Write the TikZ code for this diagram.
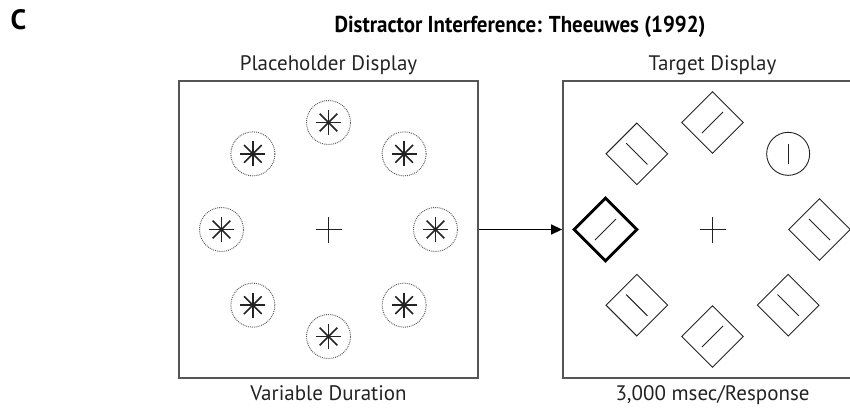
\documentclass[tikz,border=0pt]{standalone}
\usepackage{fontspec}
\setmainfont{PT Sans}
\usetikzlibrary{positioning, arrows.meta, shapes.geometric, calc}

\definecolor{frame}{RGB}{85,85,85}
\definecolor{ink}{RGB}{35,35,35}
\definecolor{dots}{RGB}{95,95,95}

\tikzset{
  display/.style={draw=frame, line width=1.8pt, minimum width=299pt, minimum height=297pt, inner sep=0pt},
  holder/.style={circle, draw=dots, dash pattern=on 0.9pt off 1pt, line width=1pt, minimum size=44pt, inner sep=0pt},
  diam/.style={diamond, draw=ink, line width=0.9pt, minimum width=62pt, minimum height=62pt, inner sep=0pt},
  singleton/.style={diamond, draw=black, line width=2.8pt, minimum width=64pt, minimum height=64pt, inner sep=0pt},
  oddone/.style={circle, draw=ink, line width=0.9pt, minimum size=43pt, inner sep=0pt},
  caption/.style={font=\fontsize{21}{24}\selectfont, text=ink, inner sep=0pt},
  bar/.style={draw=ink, line width=1pt},
}

\begin{document}
\begin{tikzpicture}[x=1pt, y=-1pt]
    \useasboundingbox (0,0) rectangle (850,407);

        % TITLE
        \node[font=\fontsize{28}{32}\selectfont\bfseries, anchor=base] (panel) at (18.5,29) {C};
        \node[font=\fontsize{23}{26}\selectfont\bfseries, anchor=base] (title) at (520,32) {\scalebox{0.91}[1]{Distractor Interference: Theeuwes (1992)}};

        % DISPLAYS
        \node[display] (ph) at (328.5,229.5) {};
        \node[display] (tg) at (712.5,229.5) {};
        \node[caption, above=5pt of ph] (phtop) {Placeholder Display};
        \node[caption, above=5pt of tg] (tgtop) {Target Display};
        \node[caption, below=6.5pt of ph] (phbot) {Variable Duration};
        \node[caption, below=6.5pt of tg] (tgbot) {3,000 msec/Response};
        \draw[-{Triangle[length=11pt, width=10pt]}, line width=1.4pt] (ph) -- (tg);

        % FIXATION CROSSES
        \draw[bar, line width=1.4pt] ($(ph)+(-13,0)$) -- ($(ph)+(13,0)$) ($(ph)+(0,-13)$) -- ($(ph)+(0,13)$);
        \draw[bar, line width=1.4pt] ($(tg)+(-13,0)$) -- ($(tg)+(13,0)$) ($(tg)+(0,-13)$) -- ($(tg)+(0,13)$);

        % PLACEHOLDERS (ASTERISKS IN DOTTED CIRCLES)
        \foreach \a in {0,45,...,315} {
            \node[holder] (h\a) at ($(ph)+(\a:107)$) {};
            \foreach \b in {0,45,90,135}
                \draw[bar, line width=1.6pt] ($(h\a)+(\b:12.5)$) -- ($(h\a)+(\b+180:12.5)$);
            \fill[ink] (h\a) circle (1.8);
        }

        % TARGET DISPLAY (1 = "/", -1 = "\")
        \foreach \a/\o in {270/1, 225/-1, 0/-1, 135/-1, 90/1, 45/-1} {
            \node[diam] (d\a) at ($(tg)+(\a:107)$) {};
            \draw[bar] ($(d\a)+(-10.6,10.6*\o)$) -- ($(d\a)+(10.6,-10.6*\o)$);
        }
        \node[singleton] (d180) at ($(tg)+(180:107)$) {};
        \draw[bar] ($(d180)+(-10.6,10.6)$) -- ($(d180)+(10.6,-10.6)$);
        \node[oddone] (d315) at ($(tg)+(315:107)$) {};
        \draw[bar] ($(d315)+(0,-10)$) -- ($(d315)+(0,10)$);

    \end{tikzpicture}
\end{document}
